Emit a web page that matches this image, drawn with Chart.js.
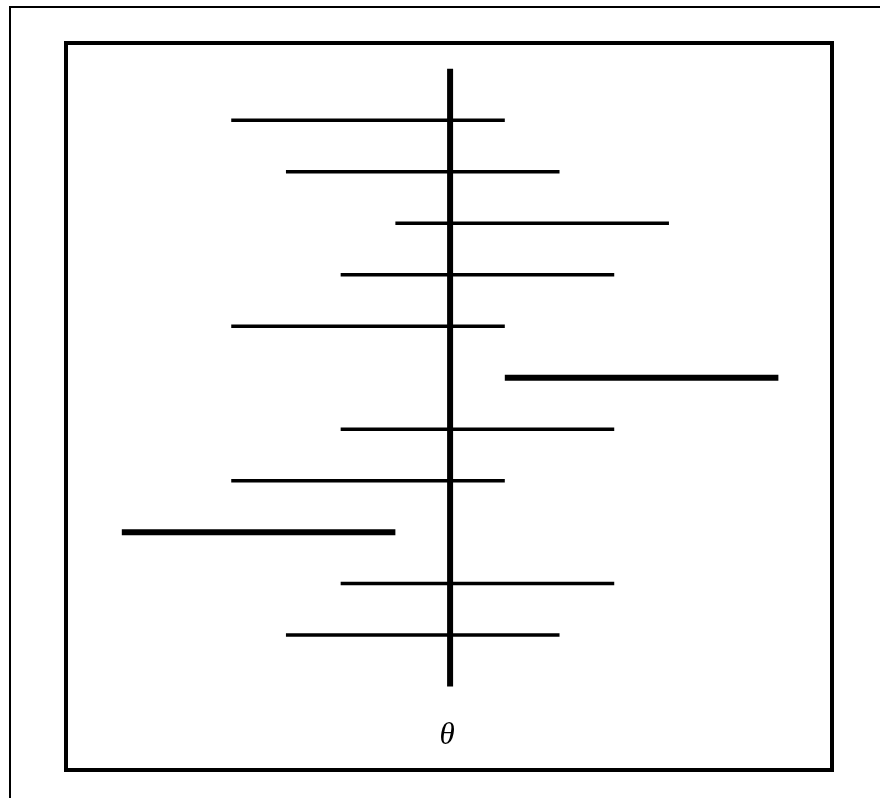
<!DOCTYPE html>
<html>
<head>
<meta charset="utf-8">
<script src="https://cdn.jsdelivr.net/npm/chart.js@4/dist/chart.umd.min.js"></script>
<style>
  html, body { margin: 0; padding: 0; background: #fff; }
  #wrap { width: 880px; height: 798px; position: relative; }
</style>
</head>
<body>
<div id="wrap"><canvas id="ci-chart" width="880" height="798"></canvas></div>
<script>
// interval ends, top row first
var lows  = [-4, -3, -1, -2, -4, 1, -2, -4, -6, -2, -3];
var highs = [ 1,  2,  4,  3,  1, 6,  3,  1, -1,  3,  2];
var theta = 0;
var thetaLabel = 'θ';

var n = lows.length;
var datasets = [];

// the true value line
datasets.push({
  data: [{x: theta, y: 0}, {x: theta, y: n + 1}],
  borderColor: '#000',
  borderWidth: 6,
  pointRadius: 0
});

for (var i = 0; i < n; i++) {
  var missed = lows[i] > theta || highs[i] < theta;
  datasets.push({
    data: [{x: lows[i], y: n - i}, {x: highs[i], y: n - i}],
    borderColor: '#000',
    borderWidth: missed ? 6 : 3.5,
    pointRadius: 0
  });
}

// frame + label
var framePlugin = {
  id: 'frame',
  beforeDraw: function(chart) {
    var ctx = chart.ctx;
    ctx.save();
    ctx.fillStyle = '#fff';
    ctx.fillRect(0, 0, chart.width, chart.height);
    ctx.strokeStyle = '#000';
    ctx.lineWidth = 2;
    ctx.beginPath();
    ctx.moveTo(10, chart.height + 5);
    ctx.lineTo(10, 7);
    ctx.lineTo(chart.width + 5, 7);
    ctx.stroke();
    ctx.restore();
  },
  afterDraw: function(chart) {
    var ctx = chart.ctx;
    var a = chart.chartArea;
    ctx.save();
    ctx.strokeStyle = '#000';
    ctx.lineWidth = 4;
    ctx.strokeRect(a.left, a.top, a.right - a.left, a.bottom - a.top);
    ctx.fillStyle = '#000';
    ctx.font = 'italic 31px "Liberation Serif", "DejaVu Serif", serif';
    ctx.textAlign = 'center';
    ctx.textBaseline = 'middle';
    ctx.fillText(thetaLabel, chart.scales.x.getPixelForValue(theta) - 3, chart.scales.y.getPixelForValue(-0.95));
    ctx.restore();
  }
};

new Chart(document.getElementById('ci-chart'), {
  type: 'line',
  data: { datasets: datasets },
  plugins: [framePlugin],
  options: {
    responsive: false,
    animation: false,
    layout: { padding: { left: 66, right: 48, top: 43, bottom: 28 } },
    plugins: {
      legend: { display: false },
      tooltip: { enabled: false }
    },
    scales: {
      x: { type: 'linear', min: -7.02, max: 6.98, display: false },
      y: { type: 'linear', min: -1.62, max: 12.5, display: false }
    }
  }
});
</script>
</body>
</html>
